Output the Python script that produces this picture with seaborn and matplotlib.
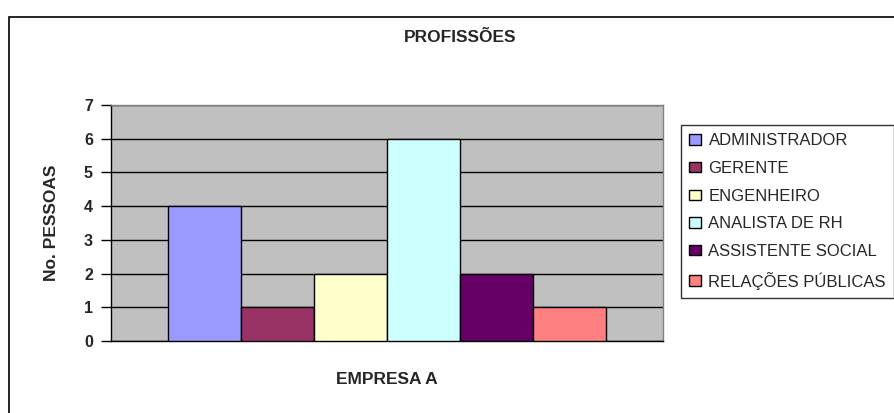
import matplotlib
matplotlib.use("Agg")
import matplotlib.pyplot as plt
import seaborn as sns
import pandas as pd
from matplotlib.patches import Rectangle

categories = ["ADMINISTRADOR", "GERENTE", "ENGENHEIRO", "ANALISTA DE RH",
              "ASSISTENTE SOCIAL", "RELAÇÕES PÚBLICAS"]
values = [4, 1, 2, 6, 2, 1]
group = ["EMPRESA A"] * len(categories)
colors = ["#9999FF", "#993366", "#FFFFCC", "#CCFFFF", "#660066", "#FF8080"]
yticks = [0, 1, 2, 3, 4, 5, 6, 7]

sns.set_theme(style="white")
plt.rcParams['font.family'] = ['Liberation Sans', 'DejaVu Sans']

df = pd.DataFrame({"empresa": group, "profissao": categories, "valor": values})

fig = plt.figure(figsize=(8.94, 4.13), dpi=100)
fig.patch.set_facecolor("white")
ax = fig.add_axes([111/894, 1-341/413, (663-111)/894, (341-105)/413])
ax.set_facecolor("#C0C0C0")

sns.barplot(data=df, x="empresa", y="valor", hue="profissao", hue_order=categories,
            palette=colors, width=0.795, edgecolor="black", linewidth=1.0,
            saturation=1, ax=ax, legend=True, zorder=3)

ax.set_ylim(0, 7)
ax.set_yticks(yticks)
ax.set_yticklabels([str(t) for t in yticks], fontweight="bold", fontsize=11.5)
ax.set_xticks([])
ax.set_xlim(-0.5, 0.5)
ax.yaxis.grid(True, color="black", linewidth=1.0, zorder=0)
ax.set_axisbelow(True)
ax.tick_params(axis="y", direction="out", length=7, width=1, color="black", pad=6, left=True)
for s in ["left", "bottom"]:
    ax.spines[s].set_color("black")
    ax.spines[s].set_linewidth(1)
for s in ["top", "right"]:
    ax.spines[s].set_color("#808080")
    ax.spines[s].set_linewidth(1)

ax.set_xlabel("EMPRESA A", fontweight="bold", fontsize=12.5, labelpad=22)
ax.set_ylabel("No. PESSOAS", fontweight="bold", fontsize=12.5, labelpad=18)

fig.text(460/894, 1-37/413, "PROFISSÕES", ha="center", va="center",
         fontweight="bold", fontsize=12.5)

leg = ax.legend(loc="upper left", bbox_to_anchor=(681/894, 1-125/413),
                bbox_transform=fig.transFigure, frameon=True, fancybox=False,
                fontsize=12, labelspacing=0.76, handlelength=0.7, handleheight=0.6,
                handletextpad=0.45, borderpad=0.5, borderaxespad=0)
leg.get_frame().set_edgecolor("black")
leg.get_frame().set_linewidth(1)
for h in leg.legend_handles:
    h.set_edgecolor("black")
    h.set_linewidth(1)

fig.patches.append(Rectangle((9/894, -0.1), 1.2, 1-17/413+0.1, transform=fig.transFigure,
                             fill=False, edgecolor="black", linewidth=1.2, zorder=0))

fig.savefig("out.png", dpi=100)
